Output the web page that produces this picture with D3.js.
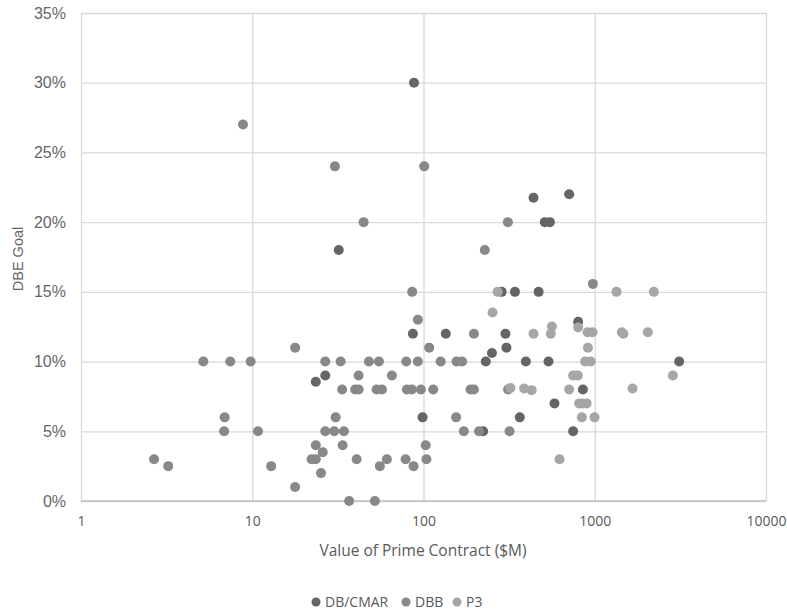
<!DOCTYPE html>
<html>
<head>
<meta charset="utf-8">
<script src="https://cdn.jsdelivr.net/npm/d3@7"></script>
<style>
	body { margin: 0; background: #fff; }
	.grid line { stroke: #d9d9d9; stroke-width: 1.3; }
	.grid path { display: none; }
	.xax text { font-family: "Open Sans"; font-size: 14px; fill: #595959; }
	.yax text { font-family: "Liberation Sans"; font-size: 16px; fill: #666; }
</style>
</head>
<body>
<svg width="787" height="614"></svg>
<script>
// series names and colours
var seriesNames = ["DB/CMAR", "DBB", "P3"];
var seriesColors = ["#656565", "#888888", "#a6a6a6"];

// DB/CMAR: contract value ($M) and DBE goal (%)
var cmarX = [88, 32, 439, 511, 547, 709, 26.7, 23.5, 86.7, 135, 98.8, 286, 342, 470, 301, 800,
	231, 251, 305, 396, 537, 853, 582, 365, 223, 748, 3111];
var cmarY = [30, 18, 21.75, 20, 20, 22, 9, 8.55, 12, 12, 6, 15, 15, 15, 12, 12.86,
	10, 10.62, 11, 10, 10, 8, 7, 6, 5, 5, 10];

// DBB
var dbbX = [8.83, 30.4, 101, 44.7, 228, 311, 17.8, 5.18, 7.44, 9.79, 26.7, 6.9, 6.85, 10.8, 26.7, 23.5,
	25.8, 22.2, 23.5, 25.2, 2.67, 3.23, 12.9, 17.8, 85.9, 92.7, 197, 108, 32.8, 48, 54.9, 79.3,
	92.7, 126, 156, 168, 41.8, 65.4, 33.5, 39.9, 41.8, 53.2, 57.2, 80, 85.5, 96.6, 114, 188,
	197, 30.7, 155, 30.1, 34.3, 172, 211, 33.7, 40.7, 61.1, 55.6, 78.6, 87.5, 103, 104, 36.8,
	52, 975, 318, 312];
var dbbY = [27, 24, 24, 20, 18, 20, 11, 10, 10, 10, 10, 6, 5, 5, 5, 4,
	3.5, 3, 3, 2, 3, 2.5, 2.5, 1, 15, 13, 12, 11, 10, 10, 10, 10,
	10, 10, 10, 10, 9, 9, 8, 8, 8, 8, 8, 8, 8, 8, 8, 8,
	8, 6, 6, 5, 5, 5, 5, 4, 3, 3, 2.5, 3, 2.5, 4, 3, 0,
	0, 15.57, 5, 8];

// P3
var p3X = [271, 1340, 2213, 253, 439, 562, 554, 800, 908, 971, 1439, 1470, 2042, 912, 879, 946,
	748, 797, 322, 387, 428, 709, 811, 850, 896, 841, 997, 623, 2857, 1662];
var p3Y = [15, 15, 15, 13.52, 12, 12.52, 12, 12.45, 12.1, 12.1, 12.1, 12, 12.1, 11, 10, 10,
	9, 9, 8.1, 8.07, 7.95, 8, 7, 7, 7, 6, 6, 3, 9, 8.07];

var xTicks = [1, 10, 100, 1000, 10000];
var yTicks = [0, 5, 10, 15, 20, 25, 30, 35];

var svg = d3.select("svg");

var x = d3.scaleLog().domain([1, 10000]).range([81, 766]);
var y = d3.scaleLinear().domain([0, 35]).range([501, 13]);

// gridlines + tick labels
svg.append("g")
	.attr("class", "grid xax")
	.attr("transform", "translate(0,501)")
	.call(d3.axisBottom(x).tickValues(xTicks).tickFormat(d3.format("d"))
		.tickSize(-488).tickPadding(15));

svg.append("g")
	.attr("class", "grid yax")
	.attr("transform", "translate(81,0)")
	.call(d3.axisLeft(y).tickValues(yTicks).tickFormat(function (d) { return d + "%"; })
		.tickSize(-685).tickPadding(15));

// axis line at the bottom, a bit darker
svg.append("line")
	.attr("x1", 81).attr("x2", 766)
	.attr("y1", y(0)).attr("y2", y(0))
	.attr("stroke", "#bfbfbf").attr("stroke-width", 1.3);

var series = [
	{ xs: cmarX, ys: cmarY },
	{ xs: dbbX, ys: dbbY },
	{ xs: p3X, ys: p3Y }
];

series.forEach(function (s, i) {
	svg.append("g")
		.selectAll("circle")
		.data(d3.range(s.xs.length))
		.enter()
		.append("circle")
		.attr("cx", function (k) { return x(s.xs[k]); })
		.attr("cy", function (k) { return y(s.ys[k]); })
		.attr("r", 5)
		.attr("fill", seriesColors[i]);
});

// axis titles
svg.append("text")
	.attr("x", 423).attr("y", 556)
	.attr("text-anchor", "middle")
	.style("font-family", "Open Sans").style("font-size", "15.5px").attr("fill", "#595959")
	.text("Value of Prime Contract ($M)");

svg.append("text")
	.attr("transform", "translate(23,259) rotate(-90)")
	.attr("text-anchor", "middle")
	.style("font-family", "Liberation Sans").style("font-size", "14.5px").attr("fill", "#666")
	.text("DBE Goal");

// legend
var legendX = [316, 406, 457];
var legend = svg.selectAll(".leg")
	.data(seriesNames)
	.enter()
	.append("g")
	.attr("class", "leg")
	.attr("transform", function (d, i) { return "translate(" + legendX[i] + ",602)"; });

legend.append("circle")
	.attr("r", 4.5)
	.attr("fill", function (d, i) { return seriesColors[i]; });

legend.append("text")
	.attr("x", 9).attr("y", 5)
	.style("font-family", "Open Sans").style("font-size", "14px").attr("fill", "#595959")
	.text(function (d) { return d; });
</script>
</body>
</html>
